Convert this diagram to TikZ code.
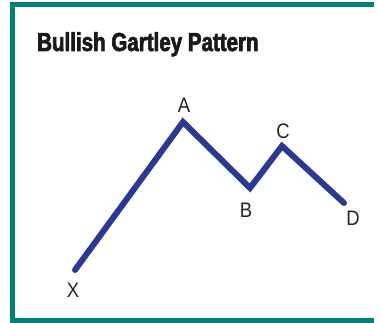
\documentclass[tikz,border=0pt]{standalone}
\usepackage{fontspec}
\setmainfont{Liberation Sans}
\newfontfamily\titlefont[FakeStretch=0.79,FakeBold=2.5]{Liberation Sans Bold}
\newfontfamily\ptfont[FakeStretch=0.88]{Liberation Sans}
\usetikzlibrary{positioning}
\definecolor{frameteal}{RGB}{0,128,118}
\definecolor{wavenavy}{RGB}{43,57,144}

\begin{document}
\begin{tikzpicture}[x=1pt,y=-1pt]
  \tikzstyle{pt}=[font=\ptfont\fontsize{21}{21}\selectfont,text=black!85,inner sep=0pt]
  \tikzstyle{wave}=[line width=6pt,wavenavy,line cap=round,line join=miter]
  \useasboundingbox[fill=white] (0,0) rectangle (380,323);
  % frame, open on the right
  \draw[frameteal,line width=5pt] (374,4.5) -- (12.5,4.5) -- (12.5,320.5) -- (374,320.5);
  \node[anchor=base west,inner sep=0pt,font=\titlefont\fontsize{26}{26}\selectfont,text=black!90] (title) at (37,51) {Bullish Gartley Pattern};
  \coordinate (x) at (75,270);
  \coordinate (a) at (183,122);
  \coordinate (b) at (250,188);
  \coordinate (c) at (282,146);
  \coordinate (d) at (344,203);
  \draw[wave] (x) -- (a) -- (b) -- (c) -- (d);
  \node[pt] (xl) at (73,290) {X};
  \node[pt] (al) at (184,105) {A};
  \node[pt] (bl) at (246,210) {B};
  \node[pt] (cl) at (283,131) {C};
  \node[pt] (dl) at (353,218) {D};
\end{tikzpicture}
\end{document}
